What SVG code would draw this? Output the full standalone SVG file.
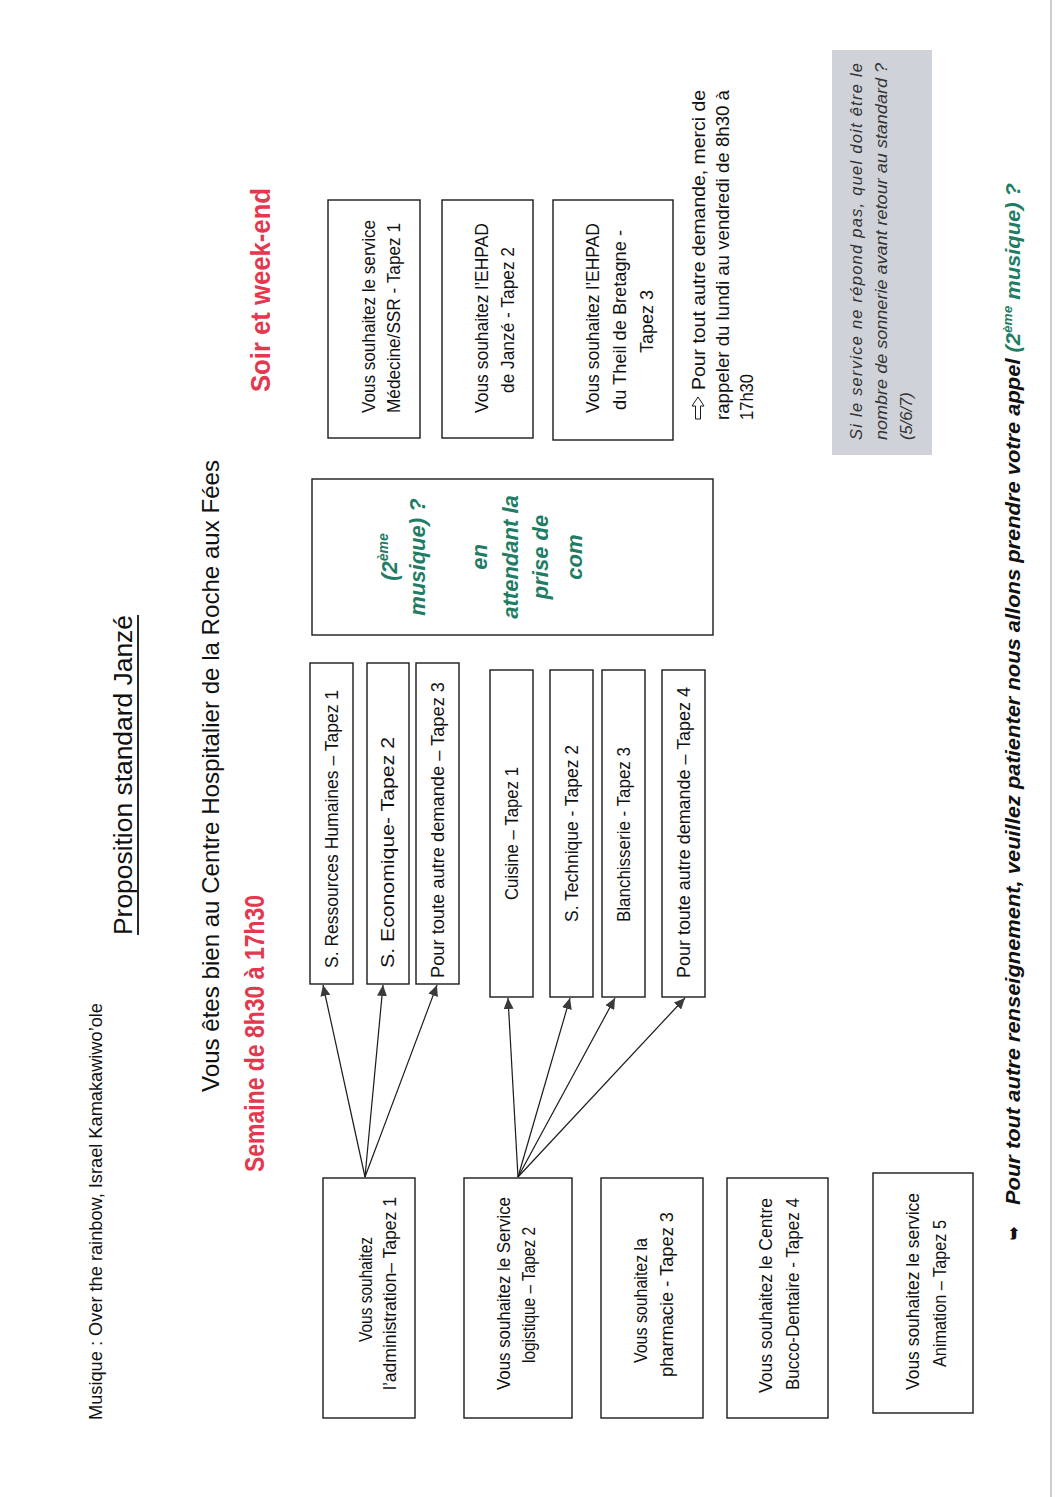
<svg xmlns="http://www.w3.org/2000/svg" width="1058" height="1497" viewBox="0 0 1058 1497">
<style>
text{font-family:"Liberation Sans",Arial,sans-serif;fill:#111}
.b{font-size:18.5px}
.box{fill:#fff;stroke:#1a1a1a;stroke-width:1.4}
.red{fill:#e4384f;font-weight:bold;font-size:27px}
.grn{fill:#1f7d65;font-weight:bold;font-style:italic;font-size:22px}
.gi{font-style:italic;font-size:16.5px;fill:#333}
.con line{stroke:#1a1a1a;stroke-width:1.2;marker-end:url(#ah)}
</style>
<defs>
<marker id="ah" markerWidth="12" markerHeight="10" refX="11" refY="5" orient="auto" markerUnits="userSpaceOnUse"><path d="M0,0 L11,5 L0,10 z" fill="#3a3a3a"/></marker>
</defs>
<rect width="1058" height="1497" fill="#fff"/>
<line x1="1051" y1="0" x2="1051" y2="1497" stroke="#cfcfcf" stroke-width="2"/>
<g transform="translate(0,1497) rotate(-90)">
  <g id="headers">
    <text x="77" y="102" font-size="18" textLength="417" lengthAdjust="spacingAndGlyphs">Musique : Over the rainbow, Israel Kamakawiwo’ole</text>
    <text x="562" y="132" font-size="25" textLength="320" lengthAdjust="spacingAndGlyphs">Proposition standard Janzé</text>
    <line x1="562" y1="138" x2="882" y2="138" stroke="#111" stroke-width="1.8"/>
    <text x="405" y="219" font-size="24" textLength="632" lengthAdjust="spacingAndGlyphs">Vous êtes bien au Centre Hospitalier de la Roche aux Fées</text>
    <text x="325" y="264" class="red" textLength="277" lengthAdjust="spacingAndGlyphs">Semaine de 8h30 à 17h30</text>
    <text x="1105" y="270" class="red" textLength="204" lengthAdjust="spacingAndGlyphs">Soir et week-end</text>
  </g>

  <g id="n-admin">
    <rect class="box" x="79" y="323" width="240" height="92"/>
    <text x="155" y="372" class="b" textLength="105" lengthAdjust="spacingAndGlyphs">Vous souhaitez</text>
    <text x="107" y="396" class="b" textLength="193" lengthAdjust="spacingAndGlyphs">l’administration– Tapez 1</text>
  </g>
  <g id="n-logistique">
    <rect class="box" x="79" y="464" width="240" height="108"/>
    <text x="107" y="510" class="b" textLength="193" lengthAdjust="spacingAndGlyphs">Vous souhaitez le Service</text>
    <text x="134" y="535" class="b" textLength="136" lengthAdjust="spacingAndGlyphs">logistique – Tapez 2</text>
  </g>
  <g id="n-pharmacie">
    <rect class="box" x="79" y="601" width="240" height="102"/>
    <text x="134" y="647" class="b" textLength="125" lengthAdjust="spacingAndGlyphs">Vous souhaitez la</text>
    <text x="120" y="673" class="b" textLength="165" lengthAdjust="spacingAndGlyphs">pharmacie - Tapez 3</text>
  </g>
  <g id="n-bucco">
    <rect class="box" x="79" y="727" width="240" height="101"/>
    <text x="104" y="772" class="b" textLength="195" lengthAdjust="spacingAndGlyphs">Vous souhaitez le Centre</text>
    <text x="107" y="799" class="b" textLength="192" lengthAdjust="spacingAndGlyphs">Bucco-Dentaire - Tapez 4</text>
  </g>
  <g id="n-animation">
    <rect class="box" x="84" y="873" width="240" height="100"/>
    <text x="107" y="919" class="b" textLength="197" lengthAdjust="spacingAndGlyphs">Vous souhaitez le service</text>
    <text x="130" y="946" class="b" textLength="147" lengthAdjust="spacingAndGlyphs">Animation – Tapez 5</text>
  </g>

  <g id="n-rh">
    <rect class="box" x="513" y="310" width="321" height="43"/>
    <text x="529" y="338" class="b" textLength="278" lengthAdjust="spacingAndGlyphs">S. Ressources Humaines – Tapez 1</text>
  </g>
  <g id="n-eco">
    <rect class="box" x="513" y="367" width="321" height="42"/>
    <text x="529" y="394" class="b" textLength="231" lengthAdjust="spacingAndGlyphs">S. Economique- Tapez 2</text>
  </g>
  <g id="n-autre3">
    <rect class="box" x="513" y="416" width="321" height="43"/>
    <text x="519" y="444" class="b" textLength="296" lengthAdjust="spacingAndGlyphs">Pour toute autre demande – Tapez 3</text>
  </g>
  <g id="n-cuisine">
    <rect class="box" x="500" y="490" width="327" height="43"/>
    <text x="597" y="518" class="b" textLength="133" lengthAdjust="spacingAndGlyphs">Cuisine – Tapez 1</text>
  </g>
  <g id="n-technique">
    <rect class="box" x="500" y="550" width="327" height="43"/>
    <text x="575" y="578" class="b" textLength="177" lengthAdjust="spacingAndGlyphs">S. Technique - Tapez 2</text>
  </g>
  <g id="n-blanch">
    <rect class="box" x="500" y="602" width="327" height="43"/>
    <text x="575" y="630" class="b" textLength="175" lengthAdjust="spacingAndGlyphs">Blanchisserie - Tapez 3</text>
  </g>
  <g id="n-autre4">
    <rect class="box" x="500" y="662" width="327" height="43"/>
    <text x="519" y="690" class="b" textLength="291" lengthAdjust="spacingAndGlyphs">Pour toute autre demande – Tapez 4</text>
  </g>

  <g id="n-musique">
    <rect class="box" x="862" y="312" width="156" height="401"/>
    <text x="940" y="397" class="grn" text-anchor="middle">(2<tspan font-size="14" dy="-9">ème</tspan></text>
    <text x="940" y="425" class="grn" text-anchor="middle">musique) ?</text>
    <text x="940" y="487" class="grn" text-anchor="middle">en</text>
    <text x="940" y="518" class="grn" text-anchor="middle">attendant la</text>
    <text x="940" y="548" class="grn" text-anchor="middle">prise de</text>
    <text x="940" y="582" class="grn" text-anchor="middle">com</text>
  </g>

  <g id="n-medecine">
    <rect class="box" x="1059" y="328" width="238" height="92"/>
    <text x="1084" y="375" class="b" textLength="193" lengthAdjust="spacingAndGlyphs">Vous souhaitez le service</text>
    <text x="1084" y="400" class="b" textLength="190" lengthAdjust="spacingAndGlyphs">Médecine/SSR - Tapez 1</text>
  </g>
  <g id="n-ehpad-janze">
    <rect class="box" x="1059" y="442" width="238" height="91"/>
    <text x="1084" y="488" class="b" textLength="190" lengthAdjust="spacingAndGlyphs">Vous souhaitez l’EHPAD</text>
    <text x="1104" y="514" class="b" textLength="146" lengthAdjust="spacingAndGlyphs">de Janzé - Tapez 2</text>
  </g>
  <g id="n-ehpad-theil">
    <rect class="box" x="1057" y="553" width="240" height="120"/>
    <text x="1084" y="599" class="b" textLength="190" lengthAdjust="spacingAndGlyphs">Vous souhaitez l’EHPAD</text>
    <text x="1087" y="626" class="b" textLength="180" lengthAdjust="spacingAndGlyphs">du Theil de Bretagne -</text>
    <text x="1144" y="653" class="b" textLength="63" lengthAdjust="spacingAndGlyphs">Tapez 3</text>
  </g>

  <g id="n-rappel">
    <path d="M1078,695.5 L1091,695.5 L1091,692 L1100,698 L1091,704 L1091,700.5 L1078,700.5 Z" fill="#fff" stroke="#1a1a1a" stroke-width="1"/>
    <text x="1107" y="705" class="b" textLength="300" lengthAdjust="spacingAndGlyphs">Pour tout autre demande, merci de</text>
    <text x="1077" y="729" class="b" textLength="330" lengthAdjust="spacingAndGlyphs">rappeler du lundi au vendredi de 8h30 à</text>
    <text x="1077" y="753" class="b" textLength="46" lengthAdjust="spacingAndGlyphs">17h30</text>
  </g>

  <g id="n-note">
    <rect x="1042" y="832" width="405" height="100" fill="#cfd2d8"/>
    <text x="1057" y="862" class="gi" textLength="377" lengthAdjust="spacing">Si le service ne répond pas, quel doit être le</text>
    <text x="1057" y="887" class="gi" textLength="377" lengthAdjust="spacingAndGlyphs">nombre de sonnerie avant retour au standard ?</text>
    <text x="1057" y="912" class="gi">(5/6/7)</text>
  </g>

  <g id="n-footer">
    <text x="257" y="1019" font-family="DejaVu Sans" font-size="16" font-weight="bold">➥</text>
    <text x="292" y="1020" font-size="21" font-weight="bold" font-style="italic" textLength="1022" lengthAdjust="spacingAndGlyphs">Pour tout autre renseignement, veuillez patienter nous allons prendre votre appel <tspan fill="#1f7d65">(2</tspan><tspan fill="#1f7d65" font-size="13" dy="-8">ème</tspan><tspan fill="#1f7d65" dy="8"> musique) ?</tspan></text>
  </g>

  <g id="connectors" class="con">
    <line x1="320" y1="365" x2="512" y2="323"/>
    <line x1="320" y1="365" x2="512" y2="383"/>
    <line x1="320" y1="365" x2="512" y2="437"/>
    <line x1="320" y1="518" x2="499" y2="508"/>
    <line x1="320" y1="518" x2="499" y2="570"/>
    <line x1="320" y1="518" x2="499" y2="615"/>
    <line x1="320" y1="518" x2="499" y2="685"/>
  </g>
</g>
</svg>
